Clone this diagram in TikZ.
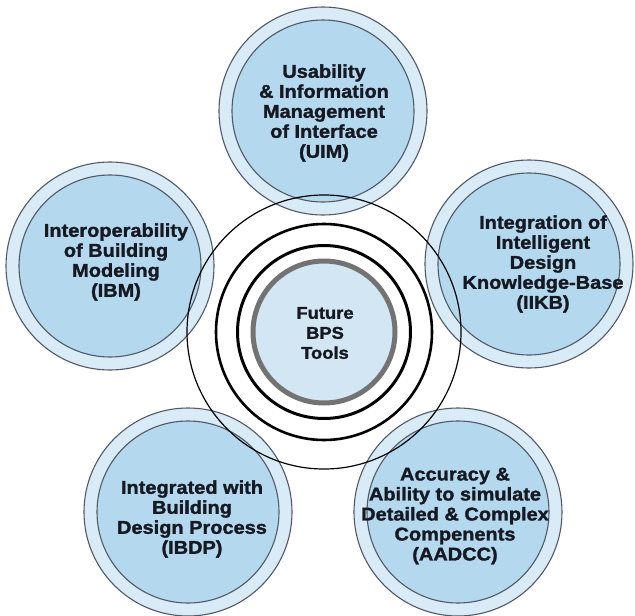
\documentclass[tikz,border=0pt]{standalone}
\usepackage{fontspec}
\usepackage{tikz}
\usepackage{xcolor}
\newfontfamily\bubblefont[FakeStretch=1.08, BoldFeatures={FakeBold=1.5}]{Liberation Sans}
\definecolor{RingBlue}{RGB}{216, 235, 246}
\definecolor{DiscBlue}{RGB}{180, 217, 238}
\definecolor{CoreBlue}{RGB}{210, 231, 243}
\definecolor{EdgeGray}{RGB}{80, 90, 100}
\definecolor{HubGray}{RGB}{115, 115, 115}
\definecolor{TextInk}{RGB}{22, 24, 34}

\begin{document}
\begin{tikzpicture}[x = 1pt, y = -1pt,
    ring/.style = {circle, fill = RingBlue, draw = EdgeGray, line width = 1.1pt, minimum size = 208pt, inner sep = 0pt},
    disc/.style = {circle, fill = DiscBlue, draw = EdgeGray, line width = 1.1pt, minimum size = 182pt, inner sep = 0pt},
    orbit/.style = {circle, draw = black, inner sep = 0pt},
    bubbletext/.style = {align = center, text = TextInk, font = \fontsize{18.5}{20}\selectfont\bubblefont\bfseries},
    hubtext/.style = {align = center, text = TextInk, font = \fontsize{17}{20}\selectfont\bubblefont\bfseries}]
            \useasboundingbox (0, 0) rectangle (635, 616);
            %画外圈五个圆
            \node[ring] (uimring) at (323, 111) {};
            \node[disc] (uim) at (323, 111) {};
            \node[ring] (ibmring) at (110, 266) {};
            \node[disc] (ibm) at (110, 266) {};
            \node[ring] (iikbring) at (529, 264) {};
            \node[disc] (iikb) at (529, 264) {};
            \node[ring] (ibdpring) at (188, 512) {};
            \node[disc] (ibdp) at (188, 512) {};
            \node[ring] (aadccring) at (458, 512) {};
            \node[disc] (aadcc) at (458, 512) {};
            %标注文字
            \node[bubbletext] (uimtext) at (324, 113) {Usability\\\& Information\\Management\\of Interface\\(UIM)};
            \node[bubbletext] (ibmtext) at (116, 262) {Interoperability\\of Building\\Modeling\\(IBM)};
            \node[bubbletext] (iikbtext) at (543, 264) {Integration of\\Intelligent\\Design\\Knowledge-Base\\(IIKB)};
            \node[bubbletext] (ibdptext) at (192, 519) {Integrated with\\Building\\Design Process\\(IBDP)};
            \node[bubbletext] (aadcctext) at (455, 516) {Accuracy \&\\Ability to simulate\\Detailed \& Complex\\Compenents\\(AADCC)};
            %画中心圆环
            \coordinate (core) at (324, 332);
            \node[orbit, line width = 1.2pt, minimum size = 274pt] (orbitc) at (core) {};
            \node[orbit, line width = 2.6pt, minimum size = 216pt] (orbitb) at (core) {};
            \node[orbit, line width = 3pt, minimum size = 173pt] (orbita) at (core) {};
            \node[circle, fill = CoreBlue, draw = HubGray, line width = 5pt, minimum size = 142pt, inner sep = 0pt] (hub) at (core) {};
            \node[hubtext] (hubtitle) at (325, 333) {Future\\BPS\\Tools};
        \end{tikzpicture}
\end{document}
